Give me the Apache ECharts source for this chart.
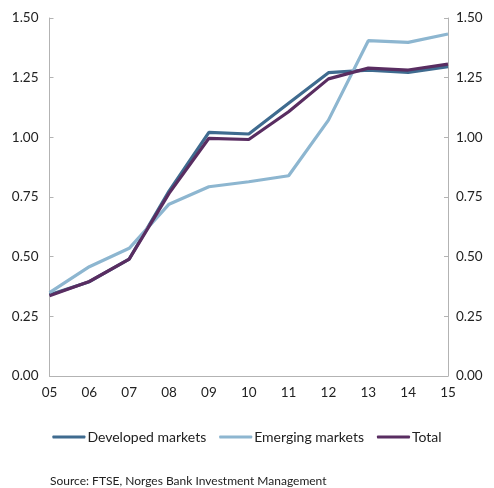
<!DOCTYPE html>
<html><head><meta charset="utf-8">
<script src="https://cdn.jsdelivr.net/npm/echarts@6/dist/echarts.min.js"></script>
<style>html,body{margin:0;padding:0;background:#fff}#c{width:494px;height:488px}</style>
</head><body><div id="c"></div>
<script>
var categories = ['05','06','07','08','09','10','11','12','13','14','15'];
var developed = [0.34,0.395,0.49,0.775,1.021,1.014,1.143,1.271,1.282,1.272,1.296];
var emerging  = [0.349,0.458,0.535,0.72,0.793,0.814,0.839,1.072,1.405,1.398,1.433];
var total     = [0.336,0.396,0.49,0.765,0.996,0.991,1.107,1.245,1.29,1.282,1.307];
var yTicks = [0,0.25,0.5,0.75,1,1.25,1.5];

var FONT = 'Lato';
var chart = echarts.init(document.getElementById('c'), null, {renderer:'canvas'});
function yAxis(pos){
  return {
    type:'value', position:pos, min:0, max:1.5, interval:0.25,
    axisLine:{show:true, lineStyle:{color:'#b3b3b3', width:1}},
    axisTick:{show:true, inside:true, length:4, lineStyle:{color:'#b3b3b3'}},
    splitLine:{show:false},
    axisLabel:{color:'#222', fontFamily:FONT, fontSize:13.5, margin:pos==='left'?11:8,
      formatter:function(v){return v.toFixed(2);}}
  };
}
chart.setOption({
  animation:false,
  grid:{left:49.5, right:46, top:18, bottom:112, containLabel:false},
  xAxis:{type:'category', data:categories, boundaryGap:false,
    axisLine:{lineStyle:{color:'#b3b3b3'}}, axisTick:{show:false},
    axisLabel:{color:'#222', fontFamily:FONT, fontSize:13.5, margin:10}},
  yAxis:[yAxis('left'), yAxis('right')],
  legend:{bottom:39, left:'center', itemWidth:33, itemHeight:3, itemGap:13, icon:'roundRect',
    textStyle:{color:'#222', fontFamily:FONT, fontSize:14, padding:[0,0,0,-3]},
    data:['Developed markets','Emerging markets','Total']},
  graphic:[{type:'text', left:50, top:475, style:{text:'Source: FTSE, Norges Bank Investment Management', fill:'#222', font:'12px '+FONT}}],
  series:[
    {name:'Developed markets', type:'line', data:developed, symbol:'none', color:'#3f6b8f', lineStyle:{width:3.2, color:'#3f6b8f'}},
    {name:'Emerging markets', type:'line', data:emerging, symbol:'none', color:'#8db6d0', lineStyle:{width:3.2, color:'#8db6d0'}},
    {name:'Total', type:'line', data:total, symbol:'none', color:'#592d61', lineStyle:{width:3.2, color:'#592d61'}}
  ]
});
</script></body></html>
